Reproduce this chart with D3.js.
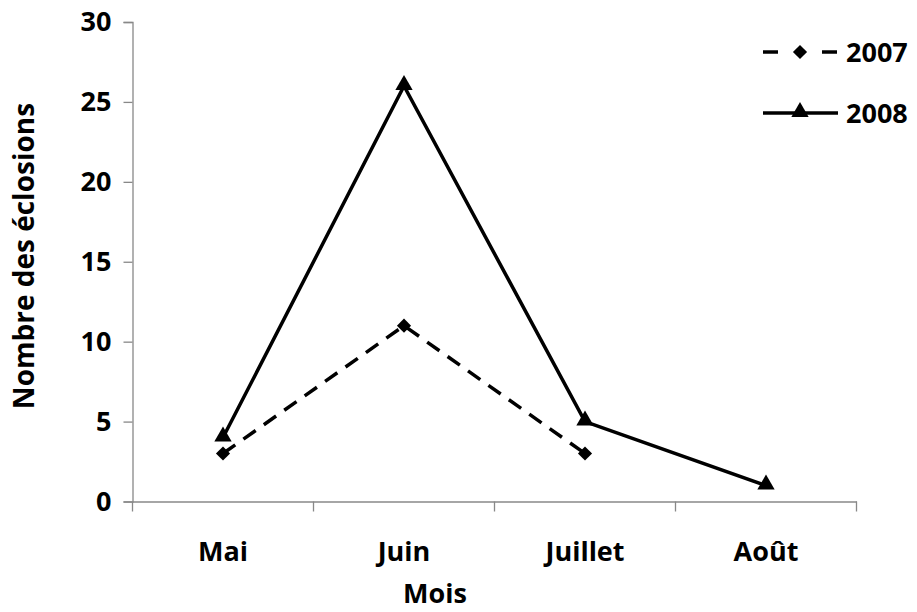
<!DOCTYPE html>
<html><head><meta charset="utf-8">
<script src="https://cdn.jsdelivr.net/npm/d3@7"></script>
<style>body{margin:0;background:#fff}svg{display:block}text{font-family:"Open Sans",sans-serif;font-weight:700;fill:#000}</style>
</head><body><svg id="c" width="917" height="612"></svg>
<script>
const months = ["Mai","Juin","Juillet","Août"];
const values2007 = [3, 11, 3, null];
const values2008 = [4, 26, 5, 1];
const yTicks = [0,5,10,15,20,25,30];
const seriesNames = ["2007","2008"];

const svg = d3.select("#c");
const m = {l:132.5, r:856.5, t:22, b:501.5};
const x = d3.scaleBand().domain(months).range([m.l, m.r]);
const y = d3.scaleLinear().domain([0,30]).range([m.b, m.t]);
const axisColor = "#888";
const fs = 27;

const ya = svg.append("g").attr("transform",`translate(${m.l},0)`)
  .call(d3.axisLeft(y).tickValues(yTicks).tickSize(9).tickPadding(12));
ya.select(".domain").attr("stroke",axisColor).attr("stroke-width",1.3);
ya.selectAll(".tick line").attr("stroke",axisColor).attr("stroke-width",1.3);
ya.selectAll(".tick text").style("font-size",fs+"px").style("font-family","'Open Sans',sans-serif").style("font-weight",700).attr("fill","#000");

const xa = svg.append("g").attr("transform",`translate(0,${m.b})`)
  .call(d3.axisBottom(x).tickSize(0).tickPadding(40));
xa.select(".domain").attr("stroke",axisColor).attr("stroke-width",1.3);
xa.selectAll(".tick text").style("font-size",fs+"px").style("font-family","'Open Sans',sans-serif").style("font-weight",700).attr("fill","#000");
const bounds = months.map(d=>x(d)).concat([x(months[months.length-1])+x.bandwidth()]);
svg.append("g").selectAll("line").data(bounds).join("line")
  .attr("x1",d=>d).attr("x2",d=>d).attr("y1",m.b).attr("y2",m.b+10)
  .attr("stroke",axisColor).attr("stroke-width",1.3);

svg.append("text").attr("x",435).attr("y",603).attr("text-anchor","middle")
  .style("font-size","27px").text("Mois");
svg.append("text").attr("transform",`translate(34,256) rotate(-90)`)
  .attr("text-anchor","middle").style("font-size","28px").text("Nombre des éclosions");

const cx = d=>x(d)+x.bandwidth()/2;
const line = d3.line().defined(d=>d.v!=null).x(d=>cx(d.m)).y(d=>y(d.v));
const d07 = months.map((mm,i)=>({m:mm,v:values2007[i]}));
const d08 = months.map((mm,i)=>({m:mm,v:values2008[i]}));

svg.append("path").datum(d07).attr("d",line).attr("fill","none").attr("stroke","#000")
  .attr("stroke-width",3.5).attr("stroke-dasharray","15,10");
svg.append("path").datum(d08).attr("d",line).attr("fill","none").attr("stroke","#000")
  .attr("stroke-width",3.5);

const diamond = d3.symbol().type(d3.symbolSquare).size(100);
const tri = d3.symbol().type(d3.symbolTriangle).size(130);
svg.append("g").selectAll("path").data(d07.filter(d=>d.v!=null)).join("path")
  .attr("d",diamond).attr("transform",d=>`translate(${cx(d.m)},${y(d.v)}) rotate(45)`).attr("fill","#000");
svg.append("g").selectAll("path").data(d08.filter(d=>d.v!=null)).join("path")
  .attr("d",tri).attr("transform",d=>`translate(${cx(d.m)},${y(d.v)-1})`).attr("fill","#000");

const lg = svg.append("g");
const ly = [52,113];
[[763,778],[822,837]].forEach(([a,b])=>lg.append("line").attr("x1",a).attr("x2",b)
  .attr("y1",ly[0]).attr("y2",ly[0]).attr("stroke","#000").attr("stroke-width",3.5));
lg.append("path").attr("d",diamond).attr("transform",`translate(800,${ly[0]}) rotate(45)`);
lg.append("line").attr("x1",763).attr("x2",838).attr("y1",ly[1]).attr("y2",ly[1])
  .attr("stroke","#000").attr("stroke-width",3.5);
lg.append("path").attr("d",tri).attr("transform",`translate(800,${ly[1]-1})`);
seriesNames.forEach((s,i)=>lg.append("text").attr("x",846).attr("y",ly[i]).attr("dy","0.36em")
  .style("font-size",fs+"px").text(s));
</script></body></html>
